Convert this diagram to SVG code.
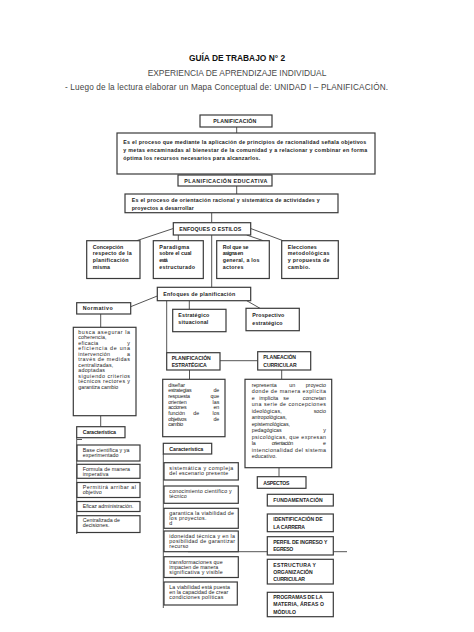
<svg xmlns="http://www.w3.org/2000/svg" width="474" height="632" viewBox="0 0 474 632">
<style>
.bx{fill:#fff;stroke:#3a3a3a;stroke-width:1.2}
.ln{stroke:#555;stroke-width:1;fill:none}
text{font-family:"Liberation Sans",Arial,sans-serif;fill:#222}
.t{font-size:5.3px}
.b{font-size:5.3px;font-weight:bold}
.c{font-size:5.1px;font-weight:bold}
.e{text-anchor:end}
</style>
<rect width="474" height="632" fill="#fff"/>
<g id="header">
<text x="237" y="60.7" text-anchor="middle" style="font-size:8.4px;font-weight:bold;fill:#111">GUÍA DE TRABAJO N° 2</text>
<text x="237" y="75.5" text-anchor="middle" style="font-size:8.4px;fill:#4a4a4a">EXPERIENCIA DE APRENDIZAJE INDIVIDUAL</text>
<text x="65" y="90" textLength="323" style="font-size:8.2px;fill:#444">- Luego de la lectura elaborar un Mapa Conceptual de: UNIDAD I – PLANIFICACIÓN.</text>
</g>
<g id="connectors">
<path class="ln" d="M236.7 127V133M236.7 174V175M236.7 186V194M211.7 212.7V222.7M211.7 235V287.3M173.3 228.5L136.7 240.7M178.3 235V240.7M246.7 235L263.3 240.7M250.7 228.5L283 240.7M157.3 296L130.7 306.7M100.7 314V327.3M100.7 415.7V426.7M76.7 437.7V534M77 439.5H82M166.7 300.7V352.7M189.3 300.7V309.3M246.7 300.7L260 308.3M220 360.7H257.7M189.5 370V379.3M163.3 454V608M188 551.7H347M281.7 370V379.3M279 467.7V476.7"/>
</g>
<g id="planificacion">
<rect class="bx" x="200" y="115" width="72" height="12"/>
<text class="b" x="213.3" y="122.9" textLength="43">PLANIFICACIÓN</text>
</g>
<g id="def-planificacion">
<rect class="bx" x="117" y="133" width="258" height="41"/>
<text class="b" x="123.3" y="144.1" textLength="243">Es el proceso que mediante la aplicación de principios de racionalidad señala objetivos</text>
<text class="b" x="123.3" y="151.8" textLength="244">y metas encaminadas al bienestar de la comunidad y a relacionar y combinar en forma</text>
<text class="b" x="123.3" y="159.5" textLength="137">óptima los recursos necesarios para alcanzarlos.</text>
</g>
<g id="planificacion-educativa">
<rect class="bx" x="178" y="175" width="94" height="11"/>
<text class="b" x="184.3" y="182.5" textLength="83">PLANIFICACIÓN EDUCATIVA</text>
</g>
<g id="def-educativa">
<rect class="bx" x="125" y="194" width="213" height="18.7"/>
<text class="b" x="131.7" y="201.8" textLength="188">Es el proceso de orientación racional y sistemática de actividades y</text>
<text class="b" x="131.7" y="209.5" textLength="62">proyectos a desarrollar</text>
</g>
<g id="enfoques-estilos">
<rect class="bx" x="173.3" y="222.7" width="77.4" height="12.3"/>
<text class="b" x="179.3" y="231.1" textLength="62">ENFOQUES O ESTILOS</text>
</g>
<g id="concepcion">
<rect class="bx" x="86.7" y="240.7" width="53.3" height="37.8"/>
<text class="b" x="92.7" y="248.5" textLength="30.6">Concepción</text>
<text class="b" x="92.7" y="255.1" textLength="39">respecto de la</text>
<text class="b" x="92.7" y="261.8" textLength="35.7">planificación</text>
<text class="b" x="92.7" y="268.5" textLength="17.3">misma</text>
</g>
<g id="paradigma">
<rect class="bx" x="153.3" y="240.7" width="50" height="37.8"/>
<text class="b" x="159.3" y="248.5" textLength="30">Paradigma</text>
<text class="b" x="159.3" y="255.1" textLength="32.3">sobre el cual</text>
<text class="b" x="159.3" y="261.8" textLength="8.5">está</text>
<text class="b" x="159.3" y="268.5" textLength="35.7">estructurado</text>
</g>
<g id="rol">
<rect class="bx" x="216.7" y="240.7" width="52.6" height="37.8"/>
<text class="b" x="222.7" y="248.5" textLength="25.7">Rol que se</text>
<text class="b" x="222.7" y="255.1" textLength="20.5">asigna en</text>
<text class="b" x="222.7" y="261.8" textLength="36.7">general, a los</text>
<text class="b" x="222.7" y="268.5" textLength="20.7">actores</text>
</g>
<g id="elecciones">
<rect class="bx" x="281.7" y="240.7" width="56.6" height="37.8"/>
<text class="b" x="287.7" y="248.5" textLength="29">Elecciones</text>
<text class="b" x="287.7" y="255.1" textLength="41.7">metodológicas</text>
<text class="b" x="287.7" y="261.8" textLength="41.7">y propuesta de</text>
<text class="b" x="287.7" y="268.5" textLength="22.3">cambio.</text>
</g>
<g id="enfoques-planificacion">
<rect class="bx" x="157.3" y="287.3" width="93.4" height="13.4"/>
<text class="b" x="163.3" y="295.8" textLength="72">Enfoques de planificación</text>
</g>
<g id="normativo">
<rect class="bx" x="76.7" y="302.7" width="54" height="11.3"/>
<text class="b" x="82.7" y="310.1" textLength="30">Normativo</text>
</g>
<g id="normativo-def">
<rect class="bx" x="73.3" y="327.3" width="62.7" height="88.4"/>
<text class="t" x="78.3" y="333.8" textLength="51.7">busca asegurar la</text>
<text class="t" x="78.3" y="339.3" textLength="28.3">coherencia,</text>
<text class="t" x="78.3" y="344.8" textLength="20">eficacia</text>
<text class="t e" x="130" y="344.8">y</text>
<text class="t" x="78.3" y="350.3" textLength="51.7">eficiencia de una</text>
<text class="t" x="78.3" y="355.8" textLength="31.7">intervención</text>
<text class="t e" x="130" y="355.8">a</text>
<text class="t" x="78.3" y="361.3" textLength="51.7">través de medidas</text>
<text class="t" x="78.3" y="366.8" textLength="35">centralizadas,</text>
<text class="t" x="78.3" y="372.3" textLength="26.7">adoptadas</text>
<text class="t" x="78.3" y="377.8" textLength="51.7">siguiendo criterios</text>
<text class="t" x="78.3" y="383.3" textLength="51.7">técnicos rectores y</text>
<text class="t" x="78.3" y="388.8" textLength="40">garantiza cambio</text>
</g>
<g id="caracteristica-normativo">
<rect class="bx" x="76.7" y="426.7" width="48.3" height="11"/>
<text class="b" x="82.7" y="434.1" textLength="33.3">Característica</text>
</g>
<g id="base">
<rect class="bx" x="77" y="445" width="63" height="16"/>
<text class="t" x="82.7" y="451.8" textLength="46.7">Base científica y ya</text>
<text class="t" x="82.7" y="457.1" textLength="35.7">experimentado</text>
</g>
<g id="formula">
<rect class="bx" x="77" y="464.3" width="63" height="14"/>
<text class="t" x="82.7" y="470.8" textLength="47.3">Formula de manera</text>
<text class="t" x="82.7" y="476.1" textLength="25.7">imperativa</text>
</g>
<g id="permitira">
<rect class="bx" x="77" y="482.5" width="63" height="15"/>
<text class="t" x="82.7" y="488.5" textLength="53.3">Permitirá arribar al</text>
<text class="t" x="82.7" y="493.8" textLength="19">objetivo</text>
</g>
<g id="eficaz">
<rect class="bx" x="77" y="501.5" width="63" height="10"/>
<text class="t" x="82.7" y="507.8" textLength="50.7">Eficaz administración.</text>
</g>
<g id="centralizada">
<rect class="bx" x="77" y="515.7" width="63" height="16.8"/>
<text class="t" x="82.7" y="521.8" textLength="37.3">Centralizada de</text>
<text class="t" x="82.7" y="527.1" textLength="26.7">decisiones.</text>
</g>
<g id="estrategico-situacional">
<rect class="bx" x="172.7" y="309.3" width="53.3" height="22.4"/>
<text class="b" x="178.3" y="316.8" textLength="31">Estratégico</text>
<text class="b" x="178.3" y="324.1" textLength="30">situacional</text>
</g>
<g id="prospectivo">
<rect class="bx" x="246" y="308.3" width="53.3" height="22.4"/>
<text class="b" x="252.3" y="316.8" textLength="32">Prospectivo</text>
<text class="b" x="252.3" y="324.5" textLength="30.3">estratégico</text>
</g>
<g id="planificacion-estrategica">
<rect class="bx" x="166.7" y="352.7" width="53.3" height="17.3"/>
<text class="c" x="171.7" y="360.1" textLength="39">PLANIFICACIÓN</text>
<text class="c" x="171.7" y="366.8" textLength="35">ESTRATÉGICA</text>
</g>
<g id="planeacion-curricular">
<rect class="bx" x="257.7" y="351.7" width="53" height="18.3"/>
<text class="c" x="263.3" y="359.1" textLength="32.7">PLANEACIÓN</text>
<text class="c" x="263.3" y="366.8" textLength="33.3">CURRICULAR</text>
</g>
<g id="estrategica-def">
<rect class="bx" x="162.7" y="379.3" width="62.3" height="57.4"/>
<text class="t" x="168.3" y="386.8" textLength="16.7">diseñar</text>
<text class="t" x="168.3" y="392.4" textLength="23.3">estrategias</text>
<text class="t e" x="219.3" y="392.4">de</text>
<text class="t" x="168.3" y="398.1" textLength="21.7">respuesta</text>
<text class="t e" x="219.3" y="398.1">que</text>
<text class="t" x="168.3" y="403.7" textLength="18.3">orienten</text>
<text class="t e" x="219.3" y="403.7">las</text>
<text class="t" x="168.3" y="409.4" textLength="18.3">acciones</text>
<text class="t e" x="219.3" y="409.4">en</text>
<text class="t" x="168.3" y="415" textLength="16.7">función</text>
<text class="t" x="193.3" y="415">de</text>
<text class="t e" x="219.3" y="415">los</text>
<text class="t" x="168.3" y="420.7" textLength="18.3">objetivos</text>
<text class="t e" x="219.3" y="420.7">de</text>
<text class="t" x="168.3" y="426.3" textLength="15">cambio</text>
</g>
<g id="caracteristica-estrategica">
<rect class="bx" x="163.3" y="443.3" width="48.4" height="10.7"/>
<text class="b" x="169.3" y="450.8" textLength="34">Característica</text>
</g>
<g id="sistematica">
<rect class="bx" x="164" y="462.7" width="74.3" height="17.3"/>
<text class="t" x="169.3" y="470.1" textLength="64">sistemática y compleja</text>
<text class="t" x="169.3" y="475.1" textLength="59">del escenario presente</text>
</g>
<g id="conocimiento">
<rect class="bx" x="164" y="486" width="74.3" height="17.3"/>
<text class="t" x="169.3" y="492.8" textLength="62.3">conocimiento científico y</text>
<text class="t" x="169.3" y="497.8" textLength="17.3">técnico</text>
</g>
<g id="garantica">
<rect class="bx" x="164" y="508.3" width="74.3" height="20"/>
<text class="t" x="169.3" y="515.1" textLength="64.7">garantica la viabilidad de</text>
<text class="t" x="169.3" y="520.1" textLength="37.3">los proyectos.</text>
<text class="t" x="169.3" y="525.1">d</text>
</g>
<g id="idoneidad">
<rect class="bx" x="164" y="531" width="74.3" height="20.7"/>
<text class="t" x="169.3" y="537.5" textLength="65.7">idoneidad técnica y en la</text>
<text class="t" x="169.3" y="542.5" textLength="65.7">posibilidad de garantizar</text>
<text class="t" x="169.3" y="547.5" textLength="19">recurso</text>
</g>
<g id="transformaciones">
<rect class="bx" x="164" y="556.7" width="74.3" height="20.8"/>
<text class="t" x="169.3" y="563.5" textLength="53.3">transformaciones que</text>
<text class="t" x="169.3" y="568.5" textLength="49">impacten de manera</text>
<text class="t" x="169.3" y="573.5" textLength="53.3">significativa y visible</text>
</g>
<g id="viabilidad">
<rect class="bx" x="164" y="582" width="73.3" height="23"/>
<text class="t" x="169.3" y="588.5" textLength="60.7">La viabilidad está puesta</text>
<text class="t" x="169.3" y="593.5" textLength="59">en la capacidad de crear</text>
<text class="t" x="169.3" y="598.5" textLength="54">condiciones políticas</text>
</g>
<g id="curricular-def">
<rect class="bx" x="245" y="379.3" width="86.7" height="88.4"/>
<text class="t" x="251.7" y="386.8" textLength="25">representa</text>
<text class="t" x="289.3" y="386.8">un</text>
<text class="t e" x="326" y="386.8">proyecto</text>
<text class="t" x="251.7" y="393.3" textLength="74.3">donde de manera explícita</text>
<text class="t" x="251.7" y="399.8">e</text>
<text class="t" x="259.3" y="399.8" textLength="19">implícita</text>
<text class="t" x="283.3" y="399.8">se</text>
<text class="t e" x="326" y="399.8">concretan</text>
<text class="t" x="251.7" y="406.3" textLength="74.3">una serie de concepciones</text>
<text class="t" x="251.7" y="412.8" textLength="30">ideológicas,</text>
<text class="t e" x="326" y="412.8">socio</text>
<text class="t" x="251.7" y="419.3" textLength="35">antropológicas,</text>
<text class="t" x="251.7" y="425.8" textLength="38.3">epistemológicas,</text>
<text class="t" x="251.7" y="432.3" textLength="30">pedagógicas</text>
<text class="t e" x="326" y="432.3">y</text>
<text class="t" x="251.7" y="438.8" textLength="74.3">psicológicas, que expresan</text>
<text class="t" x="251.7" y="445.3">la</text>
<text class="t" x="271.7" y="445.3" textLength="21.6">orientación</text>
<text class="t e" x="326" y="445.3">e</text>
<text class="t" x="251.7" y="451.8" textLength="74.3">intencionalidad del sistema</text>
<text class="t" x="251.7" y="458.3" textLength="25">educativo.</text>
</g>
<g id="aspectos">
<rect class="bx" x="257.3" y="476.7" width="48.7" height="11.6"/>
<text class="c" x="263.3" y="484.5" textLength="26">ASPECTOS</text>
</g>
<g id="fundamentacion">
<rect class="bx" x="267.3" y="494.3" width="66" height="11.7"/>
<text class="c" x="273.3" y="501.8" textLength="49.3">FUNDAMENTACIÓN</text>
</g>
<g id="identificacion">
<rect class="bx" x="267.3" y="514" width="66" height="17.7"/>
<text class="c" x="273.3" y="521.1" textLength="49.3">IDENTIFICACIÓN DE</text>
<text class="c" x="273.3" y="528.5" textLength="31.7">LA CARRERA</text>
</g>
<g id="perfil">
<rect class="bx" x="267.3" y="536.7" width="66" height="18.3"/>
<text class="c" x="273.3" y="543.5" textLength="54">PERFIL DE INGRESO Y</text>
<text class="c" x="273.3" y="551.1" textLength="20">EGRESO</text>
</g>
<g id="estructura">
<rect class="bx" x="267.3" y="559.3" width="66" height="24.7"/>
<text class="c" x="273.3" y="566.8" textLength="42.7">ESTRUCTURA Y</text>
<text class="c" x="273.3" y="573.5" textLength="39.3">ORGANIZACIÓN</text>
<text class="c" x="273.3" y="580.8" textLength="31.7">CURRICULAR</text>
</g>
<g id="programas">
<rect class="bx" x="267.3" y="592.3" width="66" height="24.4"/>
<text class="c" x="273.3" y="599.1" textLength="49.3">PROGRAMAS DE LA</text>
<text class="c" x="273.3" y="606.1" textLength="50.7">MATERIA, ÁREAS O</text>
<text class="c" x="273.3" y="613.5" textLength="22.7">MÓDULO</text>
</g>
</svg>
